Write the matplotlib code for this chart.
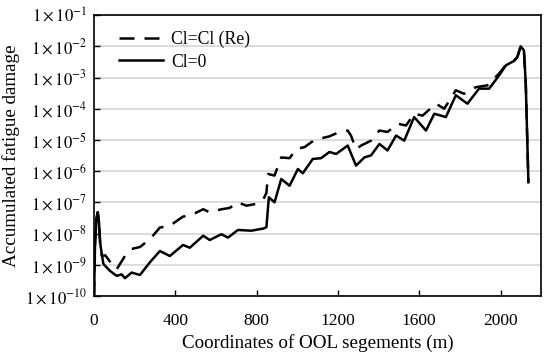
import numpy as np
import matplotlib
matplotlib.use('Agg')
import matplotlib.pyplot as plt
from matplotlib.ticker import FixedLocator, FixedFormatter

plt.rcParams['font.family'] = ['Liberation Serif', 'DejaVu Serif']
plt.rcParams['mathtext.fontset'] = 'stix'

# Cl=0 (solid)
x_solid = [0, 5, 12, 18, 24, 30, 38, 46, 79, 111, 136, 152, 185, 226, 275, 324, 373, 438, 471,
           537, 569, 627, 659, 708, 774, 834, 848, 860, 888, 921, 962, 1003, 1027, 1076, 1117,
           1158, 1191, 1248, 1289, 1330, 1363, 1404, 1444, 1486, 1526, 1575, 1633, 1674, 1731,
           1780, 1837, 1894, 1944, 1993, 2026, 2066, 2083, 2099, 2115, 2124, 2137]
d_solid = [1.0e-10, 5e-9, 3e-8, 4.8e-8, 2.5e-8, 5e-9, 2.2e-9, 1.05e-9, 6.3e-10, 4.4e-10, 4.9e-10,
           3.7e-10, 5.6e-10, 4.7e-10, 1.2e-9, 2.75e-9, 1.9e-9, 4.3e-9, 3.5e-9,
           8.5e-9, 6.2e-9, 9.5e-9, 7.4e-9, 1.3e-8, 1.23e-8, 1.45e-8, 1.6e-8, 1.45e-7, 1.0e-7,
           5.6e-7, 3.4e-7, 1.17e-6, 8.5e-7, 2.45e-6, 2.6e-6,
           4.1e-6, 3.55e-6, 6.6e-6, 1.5e-6, 2.75e-6, 3.2e-6, 7.4e-6, 4.6e-6, 1.38e-5, 9.5e-6,
           5.4e-5, 2.0e-5, 6.9e-5, 5.4e-5,
           2.7e-4, 1.45e-4, 4.4e-4, 4.4e-4, 1.17e-3, 2.45e-3, 3.4e-3, 4.6e-3, 1.0e-2, 7.4e-3,
           6.5e-4, 4.4e-7]

# Cl=Cl (Re) (dashed)
x_dash = [0, 5, 12, 18, 24, 30, 38, 55, 70, 87, 111, 152, 185, 226, 275, 324, 373, 438, 471,
          537, 569, 627, 667, 708, 749, 798, 834, 848, 856, 888, 921, 962, 995, 1036, 1085,
          1158, 1207, 1248, 1264, 1289, 1314, 1363, 1404, 1444, 1494, 1535, 1575, 1616, 1682,
          1723, 1780, 1821, 1878, 1935, 1993, 2026, 2066, 2083, 2099, 2115, 2124, 2137]
d_dash = [1.0e-10, 5e-9, 3e-8, 4.8e-8, 2.5e-8, 5e-9, 1.9e-9, 2.0e-9, 1.5e-9, 1.05e-9, 7.1e-10,
          1.9e-9, 3.2e-9, 3.7e-9, 6.6e-9, 1.55e-8, 1.78e-8, 3.5e-8, 3.7e-8,
          6.0e-8, 4.8e-8, 6.0e-8, 6.6e-8, 1.0e-7, 7.8e-8, 8.9e-8, 1.3e-7, 2e-7, 8.1e-7, 7.2e-7,
          2.75e-6, 2.6e-6, 5.1e-6, 5.9e-6, 1.0e-5,
          1.3e-5, 1.8e-5, 2.0e-5, 1.38e-5, 5.1e-6, 6.6e-6, 9.5e-6, 2.0e-5, 1.8e-5, 3.3e-5,
          2.9e-5, 6.9e-5, 6.0e-5, 1.45e-4,
          1.0e-4, 3.9e-4, 3.0e-4, 4.9e-4, 5.6e-4, 1.35e-3, 2.5e-3, 3.4e-3, 4.6e-3, 1.0e-2,
          7.4e-3, 6.5e-4, 4.4e-7]

x_ticks = [0, 400, 800, 1200, 1600, 2000]
y_exps = [-10, -9, -8, -7, -6, -5, -4, -3, -2, -1]


def main():
    fig = plt.figure(figsize=(5.5, 3.6), dpi=100)
    ax = fig.add_axes([0.171, 0.178, 0.813, 0.78])

    ax.plot(x_dash, d_dash, color='black', lw=1.8, linestyle=(0, (6, 4)),
            label='Cl=Cl (Re)', zorder=3)
    ax.plot(x_solid, d_solid, color='black', lw=1.8, label='Cl=0', zorder=4)

    ax.set_yscale('log')
    ax.set_xlim(0, 2200)
    ax.set_ylim(1e-10, 1e-1)

    yt = [10.0 ** e for e in y_exps]
    ax.yaxis.set_major_locator(FixedLocator(yt))
    ax.yaxis.set_major_formatter(FixedFormatter([r'$1\times10^{%d}$' % e for e in y_exps]))
    ax.yaxis.set_minor_locator(FixedLocator([]))
    ax.set_xticks(x_ticks)

    ax.grid(axis='y', color='#d9d9d9', lw=1.3)
    ax.set_axisbelow(True)
    ax.tick_params(direction='in', length=4, width=1, labelsize=12.5, colors='black')
    ax.tick_params(axis='x', pad=12)
    ax.tick_params(axis='y', pad=5, labelsize=12)
    for s in ax.spines.values():
        s.set_linewidth(1.2)
        s.set_color('black')

    ax.set_xlabel('Coordinates of OOL segements (m)', fontsize=13.7, labelpad=4)
    ax.set_ylabel('Accumulated fatigue damage', fontsize=13.7, labelpad=4)

    ax.legend(loc='upper left', frameon=False, fontsize=12.7, handlelength=2.5,
              handletextpad=0.45, borderaxespad=0.5, labelspacing=0.3,
              bbox_to_anchor=(0.02, 1.0))

    fig.savefig('out.png', dpi=100)


if __name__ == '__main__':
    main()
